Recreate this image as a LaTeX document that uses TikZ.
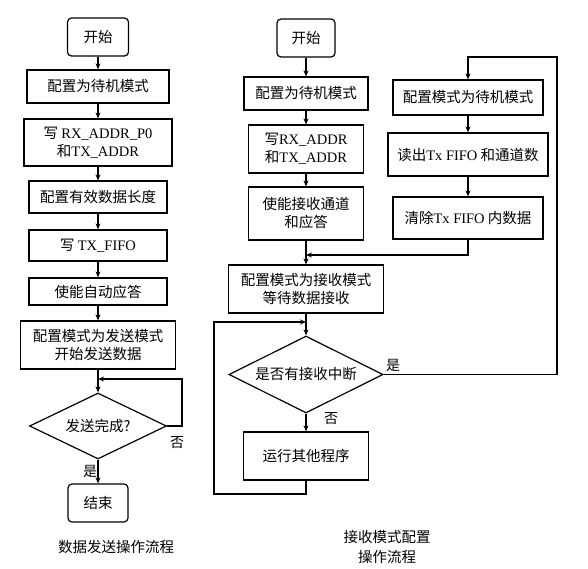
\documentclass[tikz,border=0pt]{standalone}
\usepackage{fontspec}
\setmainfont{Liberation Serif}
\newfontfamily\cjk{Noto Sans CJK SC}
\newfontfamily\lat{Liberation Serif}
\usetikzlibrary{shapes.geometric,arrows.meta}
\begin{document}
\begin{tikzpicture}[x=1pt,y=-1pt,
  every node/.style={font=\cjk\fontsize{14.5}{18}\selectfont, inner sep=0pt, align=center},
  box/.style={draw, line width=1.2pt, rectangle},
  term/.style={draw, line width=1.2pt, rectangle, rounded corners=4pt},
  dec/.style={draw, line width=1.2pt, diamond, aspect=2},
  lbl/.style={font=\cjk\fontsize{14}{17}\selectfont},
  arr/.style={line width=1.2pt, -{Stealth[length=6pt,width=5pt]}},
  ln/.style={line width=1.2pt}]
\useasboundingbox (0,0) rectangle (588,569);
% ---------- left flow ----------
\node[term, minimum width=61pt, minimum height=38pt] (ls) at (98,37) {开始};
\node[box, minimum width=142pt, minimum height=33pt] (l1) at (98,86.5) {配置为待机模式};
\node[box, minimum width=148pt, minimum height=47pt] (l2) at (98,142.5) {写 {\lat RX\_ADDR\_P0}\\和{\lat TX\_ADDR}};
\node[box, minimum width=138pt, minimum height=32pt] (l3) at (98,197) {配置有效数据长度};
\node[box, minimum width=138pt, minimum height=31pt] (l4) at (98,245.5) {写 {\lat TX\_FIFO}};
\node[box, minimum width=138pt, minimum height=27pt] (l5) at (98,291.5) {使能自动应答};
\node[box, minimum width=155pt, minimum height=48pt] (l6) at (98,345) {配置模式为发送模式\\开始发送数据};
\node[dec, minimum width=137pt, minimum height=66pt] (ld) at (98,426) {发送完成?};
\node[term, minimum width=60pt, minimum height=38pt] (le) at (98,503) {结束};
\node (lcap) at (116,547) {数据发送操作流程};
\node[lbl] (lno) at (177,443) {否};
\node[lbl] (lyes) at (90,471) {是};
\coordinate (lj) at (98,379);
\coordinate (lr) at (182,379);
\draw[arr] (ls.south) -- (l1.north);
\draw[arr] (l1.south) -- (l2.north);
\draw[arr] (l2.south) -- (l3.north);
\draw[arr] (l3.south) -- (l4.north);
\draw[arr] (l4.south) -- (l5.north);
\draw[arr] (l5.south) -- (l6.north);
\draw[arr] (l6.south) -- (ld.north);
\draw[arr] (ld.east) -| (lr) -- (lj);
\draw[arr] (ld.south) -- (le.north);
% ---------- right flow ----------
\node[term, minimum width=58pt, minimum height=38pt] (rs) at (306,38) {开始};
\node[box, minimum width=124pt, minimum height=33pt] (r1) at (306,93.5) {配置为待机模式};
\node[box, minimum width=115pt, minimum height=48pt] (r2) at (306,149) {写{\lat RX\_ADDR}\\和{\lat TX\_ADDR}};
\node[box, minimum width=115pt, minimum height=53pt] (r3) at (306,213.5) {使能接收通道\\和应答};
\node[box, minimum width=155pt, minimum height=48pt] (r4) at (306,289) {配置模式为接收模式\\等待数据接收};
\node[dec, minimum width=154pt, minimum height=77pt] (rd) at (306,374.5) {是否有接收中断};
\node[box, minimum width=125pt, minimum height=48pt] (r5) at (306,456) {运行其他程序};
\node[box, minimum width=150pt, minimum height=35pt] (q1) at (468,97.5) {配置模式为待机模式};
\node[box, minimum width=160pt, minimum height=43pt] (q2) at (468,154.5) {读出{\lat Tx FIFO} 和通道数};
\node[box, minimum width=150pt, minimum height=42pt] (q3) at (468,218) {清除{\lat Tx FIFO} 内数据};
\node (rcap1) at (387,537) {接收模式配置};
\node (rcap2) at (387,557) {操作流程};
\node[lbl] (ryes) at (393,365) {是};
\node[lbl] (rno) at (331,419) {否};
\coordinate (m) at (306,255);
\coordinate (rj) at (306,322);
\coordinate (rb) at (306,494);
\coordinate (rl) at (214,322);
\coordinate (tr) at (557,57);
\coordinate (tl) at (468,57);
\draw[arr] (rs.south) -- (r1.north);
\draw[arr] (r1.south) -- (r2.north);
\draw[arr] (r2.south) -- (r3.north);
\draw[arr] (r3.south) -- (r4.north);
\draw[arr] (q3.south) |- (m);
\draw[arr] (q1.south) -- (q2.north);
\draw[arr] (q2.south) -- (q3.north);
\draw[arr] (r4.south) -- (rd.north);
\draw[arr] (rd.south) -- (r5.north);
\draw[arr] (r5.south) -- (rb) -| (rl) -- (rj);
\draw[arr] (rd.east) -| (tr) -- (tl) -- (q1.north);
\end{tikzpicture}
\end{document}
